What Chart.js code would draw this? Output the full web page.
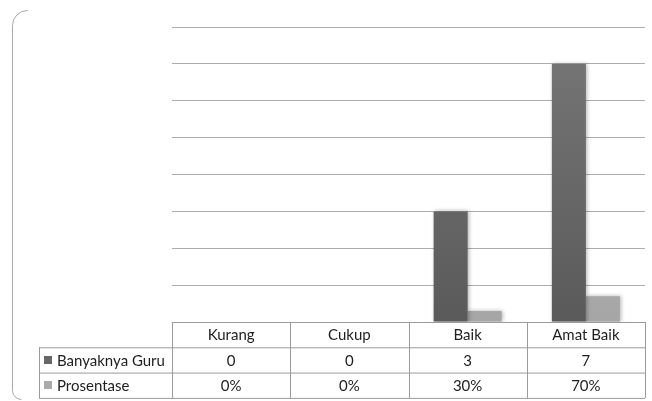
<!DOCTYPE html>
<html>
<head>
<meta charset="utf-8">
<script src="https://cdn.jsdelivr.net/npm/chart.js@4/dist/chart.umd.min.js"></script>
<style>
  html, body { margin: 0; padding: 0; background: #fff; }
  #wrap { width: 652px; height: 401px; position: relative; }
</style>
</head>
<body>
<div id="wrap"><canvas id="chart" width="652" height="401"></canvas></div>
<script>
const categories = ['Kurang', 'Cukup', 'Baik', 'Amat Baik'];
const banyaknyaGuru = [0, 0, 3, 7];
const prosentase = [0, 0, 30, 70];
const seriesNames = ['Banyaknya Guru', 'Prosentase'];
const yMax = 8;

const FONT = '15px Lato, "Open Sans", sans-serif';

function barGradient(ctx, top, bottom) {
  const area = ctx.chart.chartArea;
  if (!area) return top;
  const g = ctx.chart.ctx.createLinearGradient(0, area.top, 0, area.bottom);
  g.addColorStop(0, top);
  g.addColorStop(1, bottom);
  return g;
}

// soft shadow around the bars
const barShadow = {
  id: 'barShadow',
  beforeDatasetsDraw(chart) {
    const c = chart.ctx;
    c.save();
    c.shadowColor = 'rgba(0,0,0,0.3)';
    c.shadowBlur = 4;
    c.shadowOffsetX = 1;
  },
  afterDatasetsDraw(chart) {
    chart.ctx.restore();
  }
};

// data table under the plot + rounded frame on the left
const dataTable = {
  id: 'dataTable',
  afterDraw(chart) {
    const c = chart.ctx;
    const a = chart.chartArea;
    const colW = (a.right - a.left) / categories.length;
    const rowH = 25.3;
    const y0 = a.bottom, y1 = y0 + rowH, y2 = y1 + rowH, y3 = y2 + rowH;
    const labelLeft = 39;

    c.save();
    c.strokeStyle = '#9a9a9a';
    c.lineWidth = 1;
    c.beginPath();
    // horizontal lines
    c.moveTo(a.left, y0 + 0.5); c.lineTo(a.right, y0 + 0.5);
    c.moveTo(labelLeft, y1 + 0.5); c.lineTo(a.right, y1 + 0.5);
    c.moveTo(labelLeft, y2 + 0.5); c.lineTo(a.right, y2 + 0.5);
    c.moveTo(labelLeft, y3 + 0.5); c.lineTo(a.right, y3 + 0.5);
    // vertical lines
    for (let i = 0; i <= categories.length; i++) {
      const x = Math.round(a.left + i * colW) + 0.5;
      c.moveTo(x, y0); c.lineTo(x, y3);
    }
    c.moveTo(labelLeft + 0.5, y1); c.lineTo(labelLeft + 0.5, y3);
    c.stroke();

    c.fillStyle = '#1e1e1e';
    c.font = FONT;
    c.textBaseline = 'middle';
    c.textAlign = 'center';
    categories.forEach((cat, i) => {
      const cx = a.left + (i + 0.5) * colW;
      c.fillText(cat, cx, (y0 + y1) / 2 + 1);
      c.fillText(String(banyaknyaGuru[i]), cx, (y1 + y2) / 2 + 1);
      c.fillText(prosentase[i] + '%', cx, (y2 + y3) / 2 + 1);
    });

    // row labels with legend keys
    const keyColors = ['#666666', '#ababab'];
    c.textAlign = 'left';
    [y1, y2].forEach((ry, r) => {
      const my = ry + rowH / 2;
      c.fillStyle = keyColors[r];
      c.fillRect(44, Math.round(my - 4), 8, 8);
      c.fillStyle = '#1e1e1e';
      c.fillText(seriesNames[r], 57, my + 1);
    });

    // outer frame (left side with rounded corners)
    c.strokeStyle = '#a8a8a8';
    c.beginPath();
    c.moveTo(27, 10.5);
    c.arcTo(12.5, 10.5, 12.5, 25, 15);
    c.lineTo(12.5, 390);
    c.arcTo(12.5, 399.5, 22, 399.5, 9);
    c.stroke();
    c.restore();
  }
};

new Chart(document.getElementById('chart'), {
  type: 'bar',
  data: {
    labels: categories,
    datasets: [
      {
        label: seriesNames[0],
        data: banyaknyaGuru,
        backgroundColor: ctx => barGradient(ctx, '#777777', '#5a5a5a'),
        categoryPercentage: 0.575,
        barPercentage: 1
      },
      {
        label: seriesNames[1],
        data: prosentase.map(p => p / 100),
        backgroundColor: ctx => barGradient(ctx, '#b8b8b8', '#a6a6a6'),
        categoryPercentage: 0.575,
        barPercentage: 1
      }
    ]
  },
  options: {
    responsive: false,
    animation: false,
    events: [],
    layout: { padding: { left: 172, right: 7, top: 27, bottom: 79 } },
    plugins: {
      legend: { display: false },
      tooltip: { enabled: false }
    },
    scales: {
      x: { display: false },
      y: {
        min: 0,
        max: yMax,
        ticks: { display: false, stepSize: 1 },
        border: { display: false },
        grid: {
          drawTicks: false,
          color: ctx => ctx.tick && ctx.tick.value === 0 ? 'rgba(0,0,0,0)' : '#acacac',
          lineWidth: 1
        }
      }
    }
  },
  plugins: [barShadow, dataTable]
});
</script>
</body>
</html>
